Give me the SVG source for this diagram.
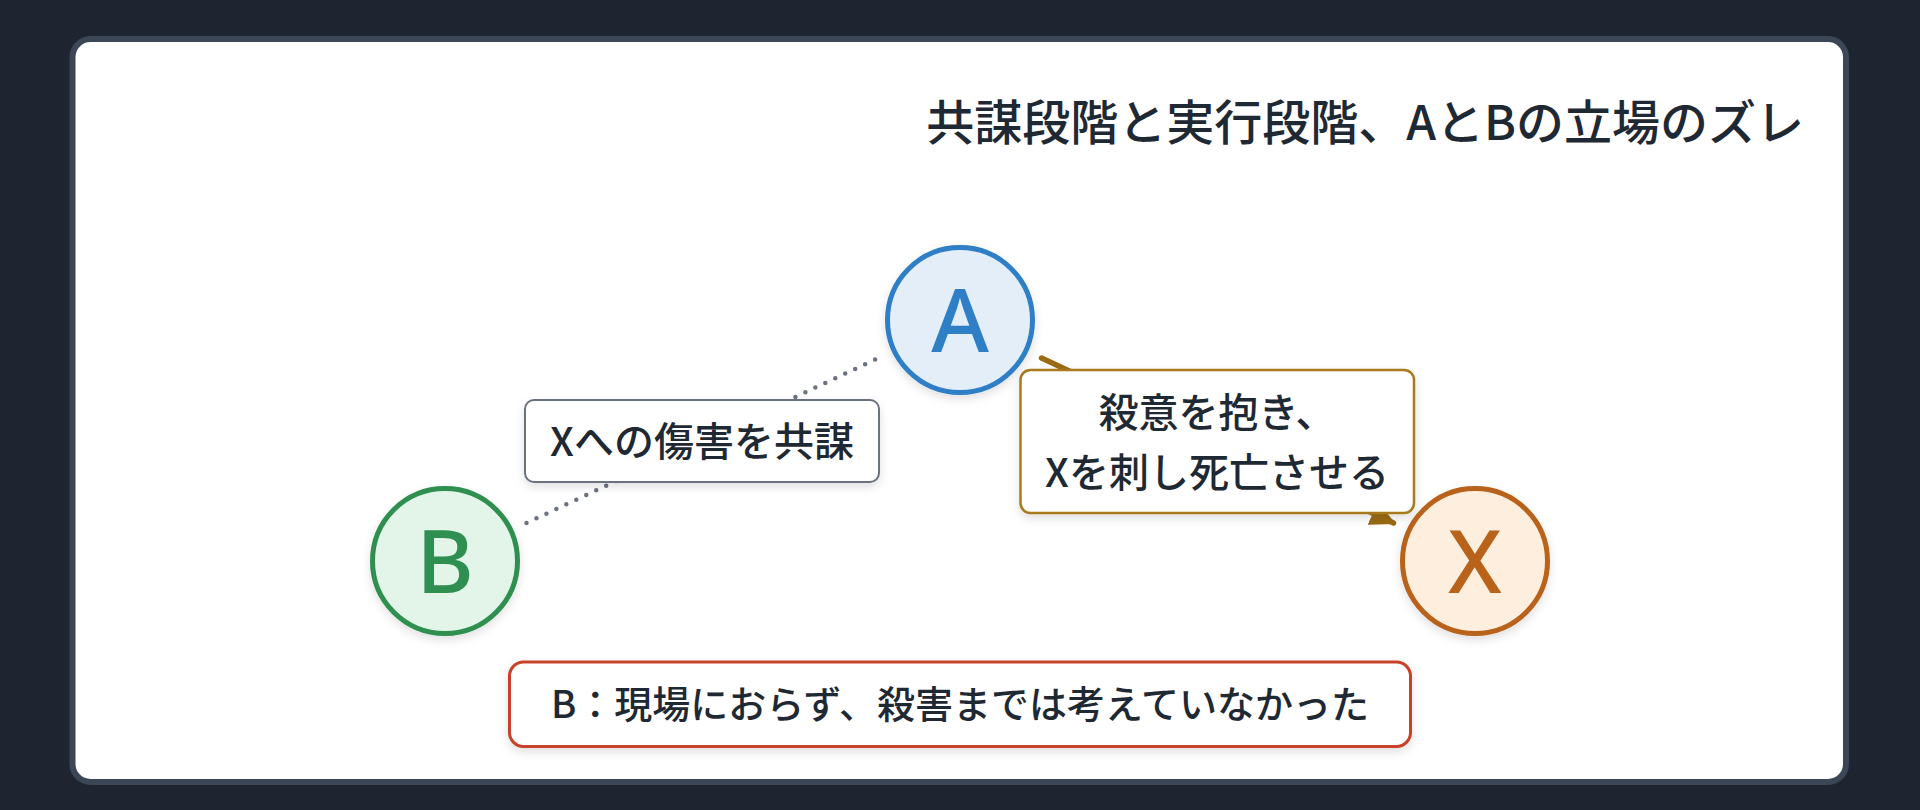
<svg xmlns="http://www.w3.org/2000/svg" width="1920" height="810" viewBox="0 0 1920 810">
  <defs>
    <filter id="shadow" x="-20%" y="-20%" width="140%" height="150%">
      <feDropShadow dx="0" dy="4" stdDeviation="5" flood-color="#000000" flood-opacity="0.12"/>
    </filter>
    <marker id="arrow" viewBox="0 0 10 10" refX="9" refY="5" markerWidth="4.6" markerHeight="4.6" orient="auto" markerUnits="strokeWidth">
      <path d="M0,0 L10,5 L0,10 Z" fill="#9a6b12"/>
    </marker>
  </defs>
  <style>
    .t { font-family: "Noto Sans CJK JP", "Noto Sans", sans-serif; fill: #1f2933; }
    .title { font-size: 48px; font-weight: 500; }
    .lbl { font-size: 40px; font-weight: 500; }
    .nodeTxt { font-family: "Noto Sans", "Noto Sans CJK JP", sans-serif; font-size: 88px; font-weight: 500; text-anchor: middle; }
    .node { stroke-width: 5; filter: url(#shadow); }
    .box { fill: #ffffff; filter: url(#shadow); }
  </style>

  <rect x="0" y="0" width="1920" height="810" fill="#1e2530"/>
  <rect id="card" x="72.5" y="39" width="1773.5" height="743" rx="18" fill="#ffffff" stroke="#3b4657" stroke-width="6"/>

  <text id="title" class="t title" x="1804" y="140" text-anchor="end">共謀段階と実行段階、AとBの立場のズレ</text>

  <g id="connectors">
    <line id="conn-B-A" x1="526.5" y1="523" x2="878.5" y2="358" stroke="#6b7280" stroke-width="4.5" stroke-linecap="round" stroke-dasharray="0 11"/>
    <line id="conn-A-X" x1="1041.5" y1="358" x2="1393.5" y2="523" stroke="#9a6b12" stroke-width="5.5" stroke-linecap="round" marker-end="url(#arrow)"/>
  </g>

  <g id="label-conspiracy">
    <rect class="box" x="525" y="400" width="354" height="82" rx="9" stroke="#6b7280" stroke-width="2"/>
    <text class="t lbl" x="702" y="456" text-anchor="middle">Xへの傷害を共謀</text>
  </g>

  <g id="label-stab">
    <rect class="box" x="1020.5" y="370" width="393.5" height="143" rx="10" stroke="#a87a1e" stroke-width="2.5"/>
    <text class="t lbl" x="1217" y="427" text-anchor="middle">殺意を抱き、</text>
    <text class="t lbl" x="1217" y="487" text-anchor="middle">Xを刺し死亡させる</text>
  </g>

  <g id="node-A">
    <circle class="node" cx="960" cy="320" r="72.5" fill="#e3eef9" stroke="#2f7fc6"/>
    <text class="nodeTxt" x="960" y="351.5" fill="#2f7fc6">A</text>
  </g>

  <g id="node-B">
    <circle class="node" cx="445" cy="561" r="72.5" fill="#e3f4e8" stroke="#2e8f50"/>
    <text class="nodeTxt" x="445" y="592.5" fill="#2e8f50">B</text>
  </g>

  <g id="node-X">
    <circle class="node" cx="1475" cy="561" r="72.5" fill="#fdeede" stroke="#b8621a"/>
    <text class="nodeTxt" x="1475" y="592.5" fill="#b8621a">X</text>
  </g>

  <g id="note-B">
    <rect class="box" x="509.5" y="662" width="901" height="84.5" rx="14" stroke="#c8422a" stroke-width="3"/>
    <text class="t" x="960" y="718" text-anchor="middle" font-size="38" font-weight="500">B：現場におらず、殺害までは考えていなかった</text>
  </g>
</svg>
